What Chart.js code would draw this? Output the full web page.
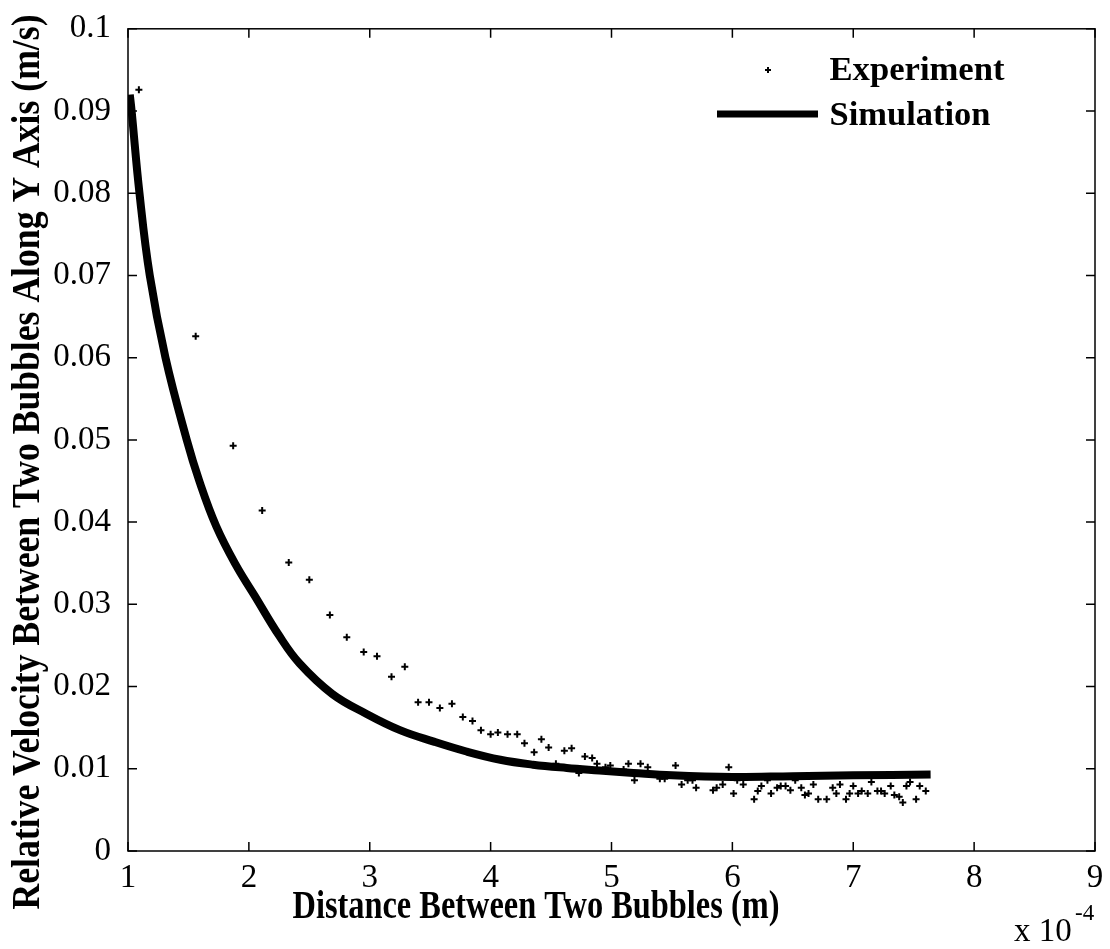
<!DOCTYPE html>
<html>
<head>
<meta charset="utf-8">
<script src="https://cdn.jsdelivr.net/npm/chart.js@4/dist/chart.umd.min.js"></script>
<style>
  html, body { margin: 0; padding: 0; background: #fff; }
  #wrap { width: 1110px; height: 949px; position: relative; }
</style>
</head>
<body>
<div id="wrap"><canvas id="myChart"></canvas></div>
<script>
// axis ticks (x in units of 1e-4 m)
const xTicks = [1, 2, 3, 4, 5, 6, 7, 8, 9];
const yTicks = [0, 0.01, 0.02, 0.03, 0.04, 0.05, 0.06, 0.07, 0.08, 0.09, 0.1];
const yTickLabels = ['0', '0.01', '0.02', '0.03', '0.04', '0.05', '0.06', '0.07', '0.08', '0.09', '0.1'];

// measured points
const expX = [1.09, 1.56, 1.87, 2.11, 2.33, 2.50, 2.67, 2.81, 2.95, 3.06, 3.18, 3.29, 3.40, 3.49, 3.58, 3.68,
  3.77, 3.85, 3.92, 4.00, 4.06, 4.14, 4.22, 4.28, 4.36, 4.42, 4.48, 4.54, 4.61, 4.67, 4.73, 4.78, 4.84, 4.88,
  4.95, 4.99, 5.10, 5.14, 5.19, 5.24, 5.30, 5.40, 5.44, 5.53, 5.58, 5.63, 5.67, 5.70, 5.84, 5.87, 5.92, 5.97,
  6.01, 6.04, 6.09, 6.18, 6.21, 6.24, 6.29, 6.32, 6.37, 6.40, 6.44, 6.48, 6.52, 6.57, 6.60, 6.63, 6.67, 6.71,
  6.78, 6.83, 6.86, 6.89, 6.94, 6.97, 7.00, 7.04, 7.07, 7.12, 7.15, 7.20, 7.23, 7.26, 7.31, 7.34, 7.38, 7.41,
  7.44, 7.47, 7.52, 7.55, 7.60];
const expY = [0.0926, 0.0626, 0.0493, 0.0414, 0.0351, 0.0330, 0.0287, 0.0260, 0.0242, 0.0237, 0.0212, 0.0224,
  0.0181, 0.0181, 0.0174, 0.0179, 0.0163, 0.0158, 0.0147, 0.0142, 0.0144, 0.0142, 0.0142, 0.0131, 0.0120,
  0.0136, 0.0126, 0.0106, 0.0122, 0.0125, 0.0095, 0.0115, 0.0113, 0.0106, 0.0102, 0.0104, 0.0099, 0.0106,
  0.0086, 0.0106, 0.0102, 0.0088, 0.0088, 0.0104, 0.0081, 0.0086, 0.0086, 0.0077, 0.0074, 0.0077, 0.0081,
  0.0102, 0.0070, 0.0086, 0.0081, 0.0063, 0.0073, 0.0079, 0.0086, 0.0070, 0.0077, 0.0079, 0.0079, 0.0074,
  0.0086, 0.0077, 0.0068, 0.0070, 0.0081, 0.0063, 0.0063, 0.0077, 0.0070, 0.0081, 0.0063, 0.0070, 0.0079,
  0.0070, 0.0073, 0.0070, 0.0084, 0.0073, 0.0073, 0.0070, 0.0079, 0.0068, 0.0066, 0.0059, 0.0079, 0.0084,
  0.0063, 0.0079, 0.0073];

// simulated curve
const simX = [1.015, 1.03, 1.095, 1.18, 1.31, 1.486, 1.59, 1.73, 1.892, 2.05, 2.25, 2.42, 2.69, 2.97, 3.25,
  3.53, 3.80, 4.08, 4.35, 4.63, 4.90, 5.18, 5.5, 6.0, 6.5, 7.0, 7.64];
const simY = [0.0920, 0.090, 0.080, 0.070, 0.060, 0.050, 0.0450, 0.0395, 0.0348, 0.0310, 0.0262, 0.0228, 0.0191,
  0.0167, 0.0147, 0.0133, 0.0121, 0.0111, 0.0105, 0.0101, 0.0098, 0.0095, 0.0092, 0.0090, 0.0091, 0.0092, 0.0093];

const serif = '"Liberation Serif", "Times New Roman", serif';

// draws bold text fitted to a given width
function fitText(ctx, text, cx, cy, width, size, rotate) {
  ctx.save();
  ctx.font = 'bold ' + size + 'px ' + serif;
  let w = ctx.measureText(text).width;
  ctx.translate(cx, cy);
  if (rotate) ctx.rotate(-Math.PI / 2);
  ctx.scale(width / w, 1);
  ctx.textAlign = 'center';
  ctx.textBaseline = 'middle';
  ctx.fillStyle = '#000';
  ctx.fillText(text, 0, 0);
  ctx.restore();
}

const framePlugin = {
  id: 'frame',
  afterDraw(chart) {
    const ctx = chart.ctx;
    const a = chart.chartArea;
    const xs = chart.scales.x, ys = chart.scales.y;
    ctx.save();
    ctx.strokeStyle = '#000';
    ctx.lineWidth = 1.5;
    ctx.strokeRect(a.left, a.top, a.right - a.left, a.bottom - a.top);
    ctx.beginPath();
    const tl = 9;
    for (let i = 0; i < xTicks.length; i++) {
      let px = xs.getPixelForValue(xTicks[i]);
      ctx.moveTo(px, a.bottom); ctx.lineTo(px, a.bottom - tl);
      ctx.moveTo(px, a.top); ctx.lineTo(px, a.top + tl);
    }
    for (let i = 0; i < yTicks.length; i++) {
      let py = ys.getPixelForValue(yTicks[i]);
      ctx.moveTo(a.left, py); ctx.lineTo(a.left + tl, py);
      ctx.moveTo(a.right, py); ctx.lineTo(a.right - tl, py);
    }
    ctx.stroke();

    // axis titles
    fitText(ctx, 'Distance Between Two Bubbles (m)', 536, 908, 487, 40, false);
    fitText(ctx, 'Relative Velocity Between Two Bubbles Along Y Axis (m/s)', 29, 462, 895, 40, true);

    // exponent note
    ctx.fillStyle = '#000';
    ctx.textBaseline = 'alphabetic';
    ctx.textAlign = 'left';
    ctx.font = '33px ' + serif;
    ctx.fillText('x 10', 1014, 941);
    ctx.font = '23px ' + serif;
    ctx.fillText('-4', 1075, 920);

    // legend
    ctx.lineWidth = 2;
    ctx.beginPath();
    ctx.moveTo(765, 70); ctx.lineTo(771, 70);
    ctx.moveTo(768, 67); ctx.lineTo(768, 73);
    ctx.stroke();
    ctx.lineWidth = 7;
    ctx.beginPath();
    ctx.moveTo(717, 114); ctx.lineTo(818, 114);
    ctx.stroke();
    ctx.restore();
    fitText(ctx, 'Experiment', 917, 71, 175, 34, false);
    fitText(ctx, 'Simulation', 910, 116, 161, 34, false);
  }
};

const expData = expX.map((v, i) => ({x: v, y: expY[i]}));
const simData = simX.map((v, i) => ({x: v, y: simY[i]}));

const ctx = document.getElementById('myChart');
const myChart = new Chart(ctx, {
  type: 'scatter',
  data: {
    datasets: [{
      label: 'Simulation',
      data: simData,
      showLine: true,
      borderColor: '#000',
      borderWidth: 8,
      borderCapStyle: 'butt',
      borderJoinStyle: 'round',
      pointRadius: 0,
      tension: 0.4,
      order: 2
    }, {
      label: 'Experiment',
      data: expData,
      pointStyle: 'cross',
      pointRadius: 3.5,
      borderColor: '#000',
      borderWidth: 2,
      order: 1
    }]
  },
  options: {
    responsive: true,
    maintainAspectRatio: false,
    animation: false,
    layout: { padding: { top: 24, right: 15, left: 0, bottom: 0 } },
    plugins: { legend: { display: false }, tooltip: { enabled: false } },
    scales: {
      x: {
        type: 'linear', min: 1, max: 9,
        afterBuildTicks: (s) => { s.ticks = xTicks.map(v => ({value: v})); },
        afterFit: (s) => { s.height = 98; },
        grid: { display: false },
        border: { display: false },
        ticks: {
          color: '#000', padding: 0, maxRotation: 0,
          font: { family: serif, size: 33 },
          callback: (v) => String(v)
        }
      },
      y: {
        type: 'linear', min: 0, max: 0.1,
        afterBuildTicks: (s) => { s.ticks = yTicks.map(v => ({value: v})); },
        afterFit: (s) => { s.width = 128; },
        grid: { display: false },
        border: { display: false },
        ticks: {
          color: '#000', padding: 9,
          font: { family: serif, size: 33 },
          callback: (v, i) => yTickLabels[i]
        }
      }
    }
  },
  plugins: [framePlugin]
});
</script>
</body>
</html>
